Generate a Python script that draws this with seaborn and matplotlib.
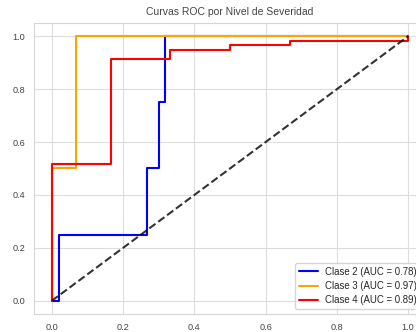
import matplotlib
matplotlib.use("Agg")
import matplotlib.pyplot as plt
import pandas as pd
import seaborn as sns

# ROC curve corner points
fpr_c2 = [0.0, 0.019, 0.019, 0.266, 0.266, 0.300, 0.300, 0.318, 0.318, 1.0]
tpr_c2 = [0.0, 0.0, 0.25, 0.25, 0.50, 0.50, 0.75, 0.75, 1.0, 1.0]
fpr_c3 = [0.0, 0.0, 0.067, 0.067, 1.0]
tpr_c3 = [0.0, 0.50, 0.50, 1.0, 1.0]
fpr_c4 = [0.0, 0.0, 0.167, 0.167, 0.333, 0.333, 0.50, 0.50, 0.667, 0.667, 1.0, 1.0]
tpr_c4 = [0.0, 0.517, 0.517, 0.914, 0.914, 0.948, 0.948, 0.966, 0.966, 0.983, 0.983, 1.0]

class_names = ["Clase 2", "Clase 3", "Clase 4"]
auc_values = [0.78, 0.97, 0.89]
colors = ["blue", "orange", "red"]

sns.set_style("whitegrid", {"grid.color": "#dddddd", "axes.edgecolor": "#d5d5d5"})
plt.rcParams["font.family"] = ["Liberation Sans", "DejaVu Sans"]

fig = plt.figure(figsize=(4.16, 3.32), dpi=100)
# axes runs past the right edge, as in the (cropped) reference
ax = fig.add_axes([34 / 416, 18 / 332, 392 / 416, 291 / 332])

curves = [(fpr_c2, tpr_c2), (fpr_c3, tpr_c3), (fpr_c4, tpr_c4)]
for (fpr, tpr), name, auc, col in zip(curves, class_names, auc_values, colors):
    df = pd.DataFrame({"fpr": fpr, "tpr": tpr})
    sns.lineplot(
        data=df, x="fpr", y="tpr", sort=False, estimator=None,
        color=col, lw=1.5, label=f"{name} (AUC = {auc:.2f})", ax=ax,
    )

ax.plot([0, 1], [0, 1], "k--", lw=1.5, alpha=0.8)

ax.set_xlim(-0.05, 1.05)
ax.set_ylim(-0.05, 1.05)
ax.set_xlabel("")
ax.set_ylabel("")
ax.set_title("Curvas ROC por Nivel de Severidad", fontsize=7.5, color="#444444")
ax.tick_params(labelsize=6.6, colors="#444444", pad=3)
ax.legend(loc="lower right", fontsize=6.9, handlelength=2.0, labelspacing=0.45)

fig.savefig("out.png", dpi=100)
